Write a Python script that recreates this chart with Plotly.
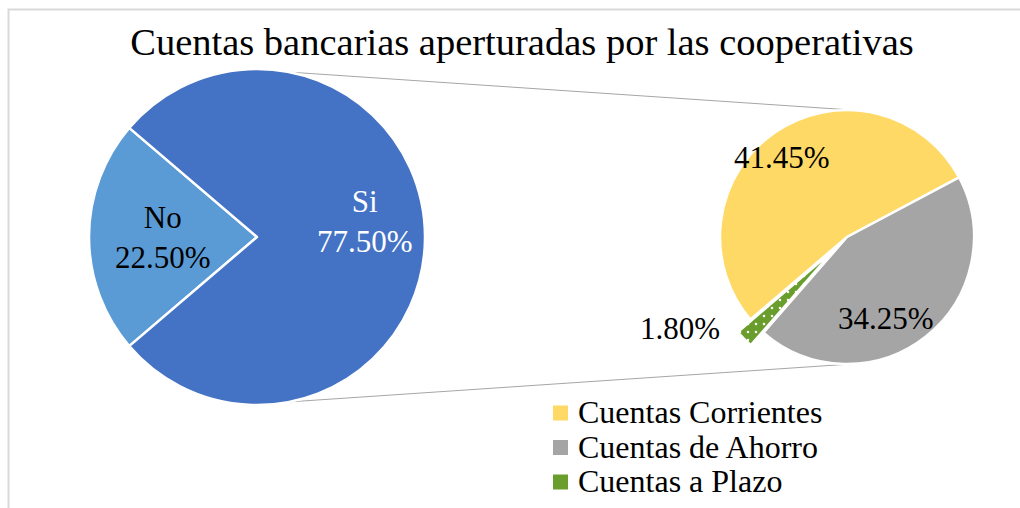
import math
import plotly.graph_objects as go

W, H = 1020, 508
FONT = "Liberation Serif, Times New Roman, serif"

title_text = "Cuentas bancarias aperturadas por las cooperativas"

main_labels = ["No", "Si"]
main_values = [22.50, 77.50]
main_colors = ["#5B9BD5", "#4472C4"]
main_text_colors = ["#000000", "#FFFFFF"]

sub_labels = ["Cuentas Corrientes", "Cuentas de Ahorro", "Cuentas a Plazo"]
sub_values = [41.45, 34.25, 1.80]
sub_colors = ["#FFD966", "#A5A5A5", "#6A9E2C"]
sub_pull = [0, 0, 0.14]


def px_x(x):
    return x / W


def px_y(y):
    return 1 - y / H


# pie geometry (pixels)
left_c, left_r = (257, 237), 168
right_c, right_r = (847, 237), 127
rot = 270 - main_values[0] / sum(main_values) * 360 / 2

# label placement: (angle offset from slice middle, radius fraction)
main_lab_pos = [(0, 0.56), (-8, 0.65)]
sub_lab_pos = [(-5, 0.81), (13, 0.71), (16, 1.5)]

fig = go.Figure()

fig.add_trace(go.Pie(
    labels=main_labels,
    values=main_values,
    sort=False,
    direction="clockwise",
    rotation=rot,
    marker=dict(colors=main_colors, line=dict(color="white", width=2.5)),
    textinfo="none",
    showlegend=False,
    hoverinfo="label+value",
    domain=dict(x=[px_x(left_c[0] - left_r), px_x(left_c[0] + left_r)],
                y=[px_y(left_c[1] + left_r), px_y(left_c[1] - left_r)]),
))

half = right_r * (1 + max(sub_pull))
fig.add_trace(go.Pie(
    labels=sub_labels,
    values=sub_values,
    sort=False,
    direction="clockwise",
    rotation=rot,
    pull=sub_pull,
    marker=dict(colors=sub_colors, line=dict(color="white", width=2.5),
                pattern=dict(shape=["", "", "."], fgcolor="white",
                             bgcolor=sub_colors, size=8, solidity=0.08)),
    textinfo="none",
    showlegend=False,
    hoverinfo="label+value",
    domain=dict(x=[px_x(right_c[0] - half), px_x(right_c[0] + half)],
                y=[px_y(right_c[1] + half), px_y(right_c[1] - half)]),
))

annotations = []


def slice_labels(values, texts, colors, center, radius, placement):
    total = sum(values)
    start = rot
    for v, t, c, (off, frac) in zip(values, texts, colors, placement):
        span = v / total * 360
        ang = math.radians(start + span / 2 + off)
        x = center[0] + frac * radius * math.sin(ang)
        y = center[1] - frac * radius * math.cos(ang)
        annotations.append(dict(text=t, xref="paper", yref="paper",
                                x=px_x(x), y=px_y(y), xanchor="center",
                                yanchor="middle", showarrow=False,
                                font=dict(family=FONT, size=31, color=c)))
        start += span


slice_labels(main_values,
             [f"{l}<br>{v:.2f}%" for l, v in zip(main_labels, main_values)],
             main_text_colors, left_c, left_r, main_lab_pos)
slice_labels(sub_values, [f"{v:.2f}%" for v in sub_values],
             ["#000000"] * 3, right_c, right_r, sub_lab_pos)

# connector lines between the two pies
shapes = []
for la, ra in [(11, 4), (169, 176)]:
    lx = left_c[0] + left_r * math.sin(math.radians(la))
    ly = left_c[1] - left_r * math.cos(math.radians(la))
    rx = right_c[0] + right_r * math.sin(math.radians(ra))
    ry = right_c[1] - right_r * math.cos(math.radians(ra))
    shapes.append(dict(type="line", xref="paper", yref="paper",
                       x0=px_x(lx), y0=px_y(ly), x1=px_x(rx), y1=px_y(ry),
                       line=dict(color="#A6A6A6", width=1), layer="below"))

# chart frame
shapes.append(dict(type="rect", xref="paper", yref="paper",
                   x0=px_x(8.5), y0=px_y(9.5), x1=1.05, y1=-0.05,
                   line=dict(color="#D9D9D9", width=2)))

# legend built from the sub-pie categories
leg_x, leg_y0, leg_dy, sw = 553, 412, 34.5, 15
for i, (lab, col) in enumerate(zip(sub_labels, sub_colors)):
    cy = leg_y0 + i * leg_dy
    shapes.append(dict(type="rect", xref="paper", yref="paper",
                       x0=px_x(leg_x), x1=px_x(leg_x + sw),
                       y0=px_y(cy + sw / 2 + 1), y1=px_y(cy - sw / 2 + 1),
                       fillcolor=col, line=dict(width=0)))
    annotations.append(dict(text=lab, xref="paper", yref="paper",
                            x=px_x(leg_x + sw + 8), y=px_y(cy),
                            xanchor="left", yanchor="middle", showarrow=False,
                            font=dict(family=FONT, size=32, color="#000000")))

fig.update_layout(
    width=W, height=H, autosize=False,
    margin=dict(l=0, r=0, t=0, b=0),
    paper_bgcolor="white", plot_bgcolor="white",
    title=dict(text=title_text, x=px_x(522), y=px_y(42),
               xanchor="center", yanchor="middle",
               font=dict(family=FONT, size=38.5, color="#000000")),
    shapes=shapes,
    annotations=annotations,
    showlegend=False,
)

fig.write_html("out.html", config={"displayModeBar": False},
               post_script="document.body.style.margin='0';")
